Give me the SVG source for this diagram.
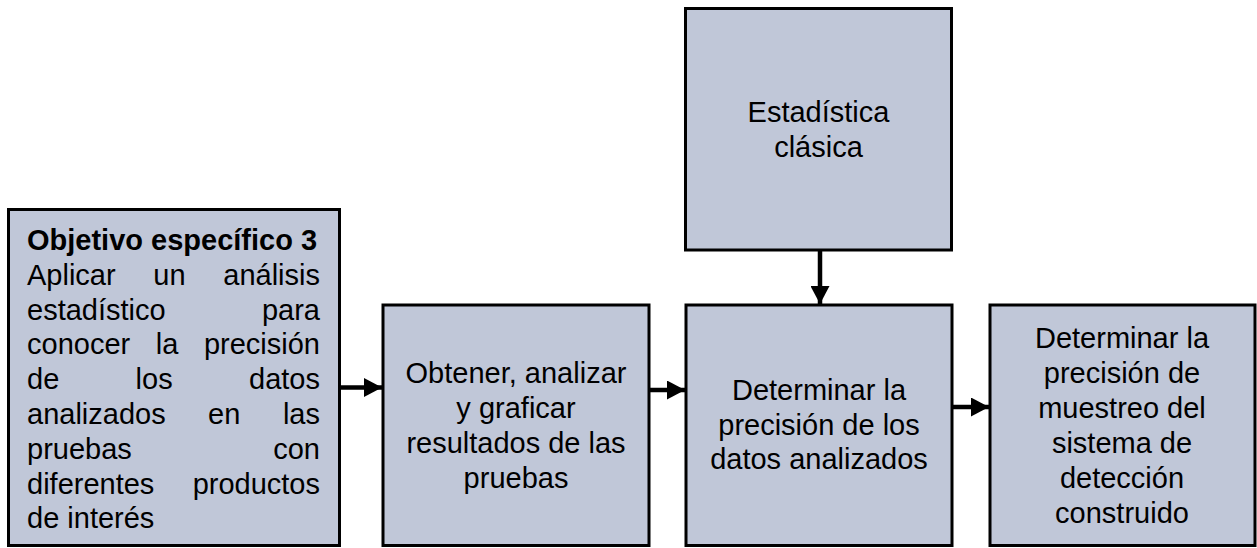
<svg xmlns="http://www.w3.org/2000/svg" width="1257" height="548" viewBox="0 0 1257 548">
<style>
.box{fill:#C0C7D8;stroke:#000;stroke-width:3}
.t{font-family:"Liberation Sans",Arial,sans-serif;font-size:29px;fill:#000}
.c{text-anchor:middle}
.e{text-anchor:end}
.b{font-weight:bold}
.con{stroke:#000;stroke-width:4.5;fill:none}
</style>
<defs>
<marker id="ah" markerUnits="userSpaceOnUse" markerWidth="19" markerHeight="19" refX="18" refY="9.5" orient="auto">
<path d="M0,0 L18,9.5 L0,19 z" fill="#000"/>
</marker>
</defs>
<rect width="1257" height="548" fill="#fff"/>
<g id="connectors">
<line class="con" x1="340" y1="387.5" x2="382" y2="387.5" marker-end="url(#ah)"/>
<line class="con" x1="649" y1="390" x2="685" y2="390" marker-end="url(#ah)"/>
<line class="con" x1="952" y1="407" x2="989" y2="407" marker-end="url(#ah)"/>
<line class="con" x1="820" y1="250" x2="820" y2="304" marker-end="url(#ah)"/>
</g>
<g id="n1">
<rect class="box" x="8.5" y="209.5" width="331" height="336"/>
<text class="t b" x="27" y="250">Objetivo específico 3</text>
<text class="t" x="27" y="284.8">Aplicar</text><text class="t" x="153.3" y="284.8">un</text><text class="t e" x="320" y="284.8">análisis</text>
<text class="t" x="27" y="319.6">estadístico</text><text class="t e" x="320" y="319.6">para</text>
<text class="t" x="27" y="354.4">conocer</text><text class="t" x="155.8" y="354.4">la</text><text class="t e" x="320" y="354.4">precisión</text>
<text class="t" x="27" y="389.2">de</text><text class="t" x="135.6" y="389.2">los</text><text class="t e" x="320" y="389.2">datos</text>
<text class="t" x="27" y="424">analizados</text><text class="t" x="208.1" y="424">en</text><text class="t e" x="320" y="424">las</text>
<text class="t" x="27" y="458.8">pruebas</text><text class="t e" x="320" y="458.8">con</text>
<text class="t" x="27" y="493.6">diferentes</text><text class="t e" x="320" y="493.6">productos</text>
<text class="t" x="27" y="528.4">de interés</text>
</g>
<g id="n2">
<rect class="box" x="383" y="305" width="266" height="240.5"/>
<text class="t c" x="516" y="383">Obtener, analizar</text>
<text class="t c" x="516" y="418">y graficar</text>
<text class="t c" x="516" y="453">resultados de las</text>
<text class="t c" x="516" y="488">pruebas</text>
</g>
<g id="n3">
<rect class="box" x="685.5" y="8.5" width="266" height="241.5"/>
<text class="t c" x="818.5" y="122">Estadística</text>
<text class="t c" x="818.5" y="157">clásica</text>
</g>
<g id="n4">
<rect class="box" x="686" y="305" width="266" height="240.5"/>
<text class="t c" x="819" y="400">Determinar la</text>
<text class="t c" x="819" y="434.5">precisión de los</text>
<text class="t c" x="819" y="469">datos analizados</text>
</g>
<g id="n5">
<rect class="box" x="990" y="305" width="265" height="240.5"/>
<text class="t c" x="1122" y="348">Determinar la</text>
<text class="t c" x="1122" y="383">precisión de</text>
<text class="t c" x="1122" y="418">muestreo del</text>
<text class="t c" x="1122" y="453">sistema de</text>
<text class="t c" x="1122" y="488">detección</text>
<text class="t c" x="1122" y="523">construido</text>
</g>
</svg>
